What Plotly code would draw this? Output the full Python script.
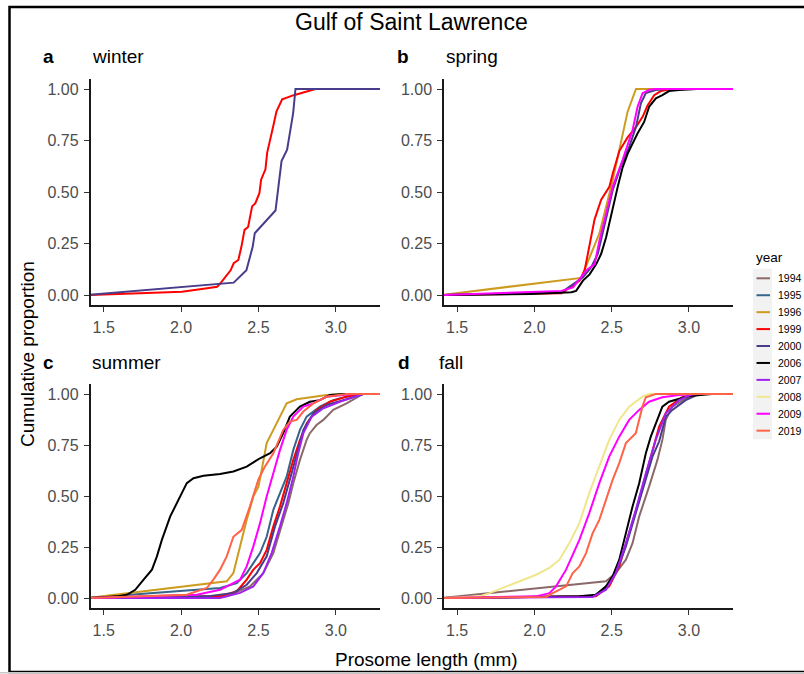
import plotly.graph_objects as go

# ---------------- data ----------------
YEARS = ["1994", "1995", "1996", "1999", "2000", "2006", "2007", "2008", "2009", "2019"]
COLORS = {"1994": "#8B6969", "1995": "#36648B", "1996": "#CD9B1D", "1999": "#FF0000",
          "2000": "#483D8B", "2006": "#000000", "2007": "#A020F0", "2008": "#F0E68C",
          "2009": "#FF00FF", "2019": "#FF6347"}

X_TICKS = [1.5, 2.0, 2.5, 3.0]
Y_TICKS = [0.0, 0.25, 0.5, 0.75, 1.0]
Y_TICK_LABELS = ["0.00", "0.25", "0.50", "0.75", "1.00"]

# winter
WINTER_X = {
    "1999": [1.40, 2.006, 2.157, 2.233, 2.254, 2.287, 2.32, 2.34, 2.37, 2.39, 2.41, 2.433, 2.459, 2.48,
             2.506, 2.517, 2.545, 2.556, 2.582, 2.60, 2.616, 2.653, 2.728, 2.793, 2.868],
    "2000": [1.40, 2.34, 2.422, 2.463, 2.476, 2.61, 2.649, 2.685, 2.724, 2.739, 3.40],
}
WINTER_Y = {
    "1999": [0.0, 0.016, 0.032, 0.04, 0.057, 0.09, 0.12, 0.154, 0.17, 0.235, 0.316, 0.33, 0.43, 0.446,
             0.494, 0.56, 0.61, 0.69, 0.77, 0.835, 0.89, 0.95, 0.97, 0.985, 1.0],
    "2000": [0.0, 0.06, 0.12, 0.235, 0.30, 0.41, 0.65, 0.705, 0.883, 1.0, 1.0],
}

# spring
SPRING_X = {
    "1996": [1.40, 2.303, 2.421, 2.507, 2.603, 2.657, 3.40],
    "1999": [1.40, 2.175, 2.293, 2.325, 2.346, 2.389, 2.432, 2.485, 2.507, 2.55, 2.603, 2.657, 2.70,
             2.732, 2.775, 2.818, 2.89, 3.40],
    "2000": [1.40, 2.175, 2.314, 2.368, 2.41, 2.464, 2.507, 2.56, 2.614, 2.657, 2.689, 2.721, 2.785,
             2.85, 3.40],
    "2006": [1.40, 1.971, 2.239, 2.27, 2.314, 2.357, 2.40, 2.432, 2.464, 2.507, 2.539, 2.571, 2.603,
             2.635, 2.668, 2.71, 2.743, 2.786, 2.828, 2.871, 2.935, 3.053, 3.40],
    "2009": [1.40, 2.175, 2.25, 2.293, 2.336, 2.39, 2.421, 2.464, 2.507, 2.571, 2.635, 2.668, 2.70,
             2.743, 2.785, 3.40],
}
SPRING_Y = {
    "1996": [0.0, 0.083, 0.30, 0.558, 0.89, 1.0, 1.0],
    "1999": [0.0, 0.008, 0.07, 0.12, 0.20, 0.366, 0.463, 0.525, 0.59, 0.70, 0.765, 0.815, 0.865,
             0.92, 0.97, 0.99, 1.0, 1.0],
    "2000": [0.0, 0.013, 0.086, 0.135, 0.20, 0.38, 0.51, 0.626, 0.72, 0.815, 0.93, 0.98, 0.995,
             1.0, 1.0],
    "2006": [0.0, 0.005, 0.013, 0.02, 0.07, 0.10, 0.15, 0.20, 0.28, 0.43, 0.525, 0.62, 0.685,
             0.735, 0.785, 0.84, 0.915, 0.955, 0.97, 0.99, 0.995, 1.0, 1.0],
    "2009": [0.0, 0.02, 0.037, 0.078, 0.12, 0.15, 0.265, 0.395, 0.526, 0.656, 0.80, 0.915, 0.98,
             0.996, 1.0, 1.0],
}

# summer
SUMMER_X = {
    "1994": [1.40, 2.295, 2.445, 2.531, 2.596, 2.65, 2.693, 2.725, 2.768, 2.811, 2.832, 2.875, 2.919,
             2.983, 3.069, 3.176, 3.40],
    "1995": [1.40, 2.252, 2.36, 2.424, 2.467, 2.51, 2.553, 2.596, 2.639, 2.682, 2.725, 2.768, 2.811,
             2.897, 2.983, 3.11, 3.176, 3.40],
    "1996": [1.40, 2.295, 2.338, 2.381, 2.424, 2.467, 2.50, 2.521, 2.553, 2.596, 2.639, 2.682, 2.747,
             2.832, 2.94, 3.069, 3.40],
    "1999": [1.40, 2.252, 2.36, 2.424, 2.467, 2.51, 2.553, 2.596, 2.639, 2.682, 2.725, 2.768, 2.811,
             2.875, 2.961, 3.069, 3.155, 3.40],
    "2000": [1.40, 2.166, 2.338, 2.424, 2.489, 2.553, 2.607, 2.66, 2.714, 2.757, 2.79, 2.854, 2.94,
             3.047, 3.176, 3.40],
    "2006": [1.40, 1.586, 1.65, 1.704, 1.758, 1.812, 1.844, 1.876, 1.93, 1.984, 2.037, 2.08, 2.145,
             2.252, 2.338, 2.424, 2.51, 2.575, 2.618, 2.66, 2.703, 2.768, 2.832, 2.897, 2.961, 3.047,
             3.40],
    "2007": [1.40, 2.252, 2.381, 2.467, 2.531, 2.585, 2.639, 2.682, 2.725, 2.757, 2.79, 2.844, 2.919,
             3.026, 3.176, 3.40],
    "2009": [1.40, 2.102, 2.252, 2.338, 2.381, 2.424, 2.467, 2.51, 2.553, 2.596, 2.639, 2.682, 2.725,
             2.79, 2.854, 2.94, 3.11, 3.40],
    "2019": [1.40, 2.037, 2.166, 2.209, 2.252, 2.295, 2.338, 2.392, 2.445, 2.499, 2.542, 2.596, 2.628,
             2.66, 2.703, 2.747, 2.79, 2.854, 2.94, 3.069, 3.40],
}
SUMMER_Y = {
    "1994": [0.0, 0.008, 0.057, 0.122, 0.22, 0.351, 0.465, 0.563, 0.677, 0.775, 0.808, 0.848, 0.873,
             0.922, 0.954, 1.0, 1.0],
    "1995": [0.0, 0.049, 0.073, 0.122, 0.171, 0.22, 0.30, 0.432, 0.514, 0.595, 0.726, 0.824, 0.889,
             0.938, 0.97, 0.995, 1.0, 1.0],
    "1996": [0.0, 0.082, 0.122, 0.253, 0.383, 0.498, 0.546, 0.628, 0.759, 0.824, 0.889, 0.954, 0.974,
             0.984, 0.995, 1.0, 1.0],
    "1999": [0.0, 0.008, 0.033, 0.09, 0.139, 0.171, 0.236, 0.351, 0.449, 0.563, 0.677, 0.775, 0.856,
             0.922, 0.962, 0.987, 1.0, 1.0],
    "2000": [0.0, 0.008, 0.025, 0.065, 0.122, 0.204, 0.351, 0.465, 0.612, 0.726, 0.824, 0.905, 0.946,
             0.97, 1.0, 1.0],
    "2006": [0.0, 0.008, 0.016, 0.04, 0.09, 0.139, 0.204, 0.285, 0.40, 0.48, 0.563, 0.587, 0.599,
             0.608, 0.62, 0.644, 0.685, 0.71, 0.742, 0.808, 0.889, 0.938, 0.962, 0.97, 0.995, 1.0,
             1.0],
    "2007": [0.0, 0.0, 0.025, 0.057, 0.122, 0.22, 0.351, 0.465, 0.595, 0.71, 0.808, 0.889, 0.93,
             0.962, 1.0, 1.0],
    "2009": [0.0, 0.016, 0.04, 0.073, 0.09, 0.155, 0.253, 0.367, 0.498, 0.612, 0.726, 0.824, 0.889,
             0.938, 0.954, 0.987, 1.0, 1.0],
    "2019": [0.0, 0.016, 0.049, 0.09, 0.139, 0.204, 0.30, 0.334, 0.449, 0.58, 0.645, 0.71, 0.767,
             0.824, 0.865, 0.873, 0.914, 0.954, 0.987, 1.0, 1.0],
}

# fall
FALL_X = {
    "1994": [1.40, 2.463, 2.527, 2.592, 2.635, 2.678, 2.742, 2.796, 2.828, 2.85, 2.893, 2.979, 3.065, 3.40],
    "1999": [1.40, 2.398, 2.484, 2.549, 2.613, 2.678, 2.742, 2.807, 2.871, 2.957, 3.065, 3.40],
    "2000": [1.40, 2.377, 2.463, 2.527, 2.592, 2.656, 2.721, 2.764, 2.807, 2.85, 2.893, 2.979, 3.065, 3.40],
    "2006": [1.40, 2.291, 2.398, 2.463, 2.506, 2.549, 2.592, 2.635, 2.678, 2.721, 2.753, 2.785, 2.828,
             2.871, 3.0, 3.15, 3.40],
    "2007": [1.40, 2.377, 2.463, 2.527, 2.592, 2.656, 2.721, 2.785, 2.85, 2.936, 3.022, 3.40],
    "2008": [1.40, 1.646, 1.71, 1.818, 1.926, 2.011, 2.097, 2.162, 2.226, 2.291, 2.355, 2.42, 2.484,
             2.549, 2.613, 2.699, 2.742, 3.40],
    "2009": [1.40, 2.011, 2.097, 2.14, 2.205, 2.291, 2.355, 2.42, 2.484, 2.549, 2.613, 2.678, 2.742,
             2.828, 2.936, 3.065, 3.40],
    "2019": [1.40, 2.076, 2.119, 2.205, 2.248, 2.291, 2.334, 2.377, 2.42, 2.463, 2.506, 2.549, 2.592,
             2.656, 2.678, 2.699, 2.721, 2.785, 3.40],
}
FALL_Y = {
    "1994": [0.0, 0.082, 0.122, 0.188, 0.269, 0.40, 0.546, 0.677, 0.775, 0.873, 0.938, 0.979, 1.0, 1.0],
    "1999": [0.0, 0.008, 0.057, 0.155, 0.318, 0.481, 0.661, 0.84, 0.938, 0.984, 1.0, 1.0],
    "2000": [0.0, 0.008, 0.049, 0.122, 0.253, 0.416, 0.579, 0.693, 0.767, 0.889, 0.922, 0.97, 1.0, 1.0],
    "2006": [0.0, 0.008, 0.016, 0.057, 0.106, 0.188, 0.318, 0.449, 0.563, 0.71, 0.791, 0.856, 0.938,
             0.962, 0.99, 1.0, 1.0],
    "2007": [0.0, 0.005, 0.041, 0.122, 0.269, 0.432, 0.612, 0.775, 0.905, 0.97, 1.0, 1.0],
    "2008": [0.0, 0.008, 0.024, 0.057, 0.09, 0.114, 0.147, 0.188, 0.269, 0.367, 0.514, 0.644, 0.775,
             0.873, 0.938, 0.987, 1.0, 1.0],
    "2009": [0.0, 0.008, 0.024, 0.057, 0.139, 0.285, 0.416, 0.563, 0.693, 0.791, 0.873, 0.922, 0.962,
             0.984, 0.995, 1.0, 1.0],
    "2019": [0.0, 0.005, 0.024, 0.057, 0.122, 0.155, 0.22, 0.318, 0.383, 0.481, 0.579, 0.661, 0.759,
             0.808, 0.873, 0.938, 0.984, 1.0, 1.0],
}

PANELS = [("a", "winter", WINTER_X, WINTER_Y),
          ("b", "spring", SPRING_X, SPRING_Y),
          ("c", "summer", SUMMER_X, SUMMER_Y),
          ("d", "fall", FALL_X, FALL_Y)]

# ---------------- layout ----------------
W, H = 804, 674
FONT = "Liberation Sans, Arial, sans-serif"


def px_x(p):
    return p / W


def px_y(p):
    return 1 - p / H


X_DOMAINS = [[px_x(90.5), px_x(380)], [px_x(444), px_x(733)]]
Y_DOMAINS = [[px_y(305.3), px_y(78.7)], [px_y(608.2), px_y(383.8)]]

fig = go.Figure()
for i, (letter, season, xs, ys) in enumerate(PANELS):
    ax = "" if i == 0 else str(i + 1)
    for yr in YEARS:
        if yr not in xs:
            continue
        fig.add_trace(go.Scatter(
            x=xs[yr], y=ys[yr], mode="lines", name=yr, legendgroup=yr, showlegend=False,
            line=dict(color=COLORS[yr], width=2),
            xaxis="x" + ax, yaxis="y" + ax, hoverinfo="skip"))

axis_common = dict(showline=True, linecolor="#1A1A1A", linewidth=1.5, mirror=False,
                   ticks="outside", ticklen=5, tickcolor="#333333", tickwidth=1.2,
                   showgrid=False, zeroline=False, ticklabelstandoff=2,
                   tickfont=dict(family=FONT, size=16, color="#4D4D4D"))

layout = dict(
    width=W, height=H, margin=dict(l=0, r=0, t=0, b=0),
    paper_bgcolor="white", plot_bgcolor="white",
    font=dict(family=FONT, color="#000000"),
    showlegend=False,
)
for i in range(4):
    ax = "" if i == 0 else str(i + 1)
    col, row = i % 2, i // 2
    layout["xaxis" + ax] = dict(domain=X_DOMAINS[col], range=[1.415, 3.285], anchor="y" + ax,
                                tickvals=X_TICKS, ticktext=[f"{v:.1f}" for v in X_TICKS],
                                **axis_common)
    layout["yaxis" + ax] = dict(domain=Y_DOMAINS[row], range=[-0.05, 1.05], anchor="x" + ax,
                                tickvals=Y_TICKS, ticktext=Y_TICK_LABELS, **axis_common)
fig.update_layout(**layout)

annotations = [
    dict(text="Gulf of Saint Lawrence", x=px_x(411.5), y=px_y(22), font=dict(size=23)),
    dict(text="Prosome length (mm)", x=px_x(426), y=px_y(659), font=dict(size=19)),
    dict(text="Cumulative proportion", x=px_x(27), y=px_y(354), font=dict(size=19), textangle=-90),
]
label_pos = [(48, 90, 57), (402.5, 444, 57), (48, 90, 362), (404, 437, 362)]
for (letter, season, _, _), (lx, sx, yy) in zip(PANELS, label_pos):
    annotations.append(dict(text=f"<b>{letter}</b>", x=px_x(lx), y=px_y(yy), font=dict(size=19)))
    annotations.append(dict(text=season, x=px_x(sx), y=px_y(yy), xanchor="left", font=dict(size=19)))

# legend (drawn by hand to match the compact ggplot key layout)
LEG_TOP, LEG_STEP = 278.3, 16.93
annotations.append(dict(text="year", x=px_x(753.5), y=px_y(257.5), xanchor="left", font=dict(size=13.5)))
shapes = [
    dict(type="rect", xref="paper", yref="paper", x0=px_x(753), x1=px_x(772),
         y0=px_y(LEG_TOP + LEG_STEP * (len(YEARS) - 1) + 8.5), y1=px_y(LEG_TOP - 9.5),
         line=dict(width=0), fillcolor="#F2F2F2", layer="below"),
]
for k, yr in enumerate(YEARS):
    yy = LEG_TOP + LEG_STEP * k
    shapes.append(dict(type="line", xref="paper", yref="paper", x0=px_x(756.5), x1=px_x(770),
                       y0=px_y(yy), y1=px_y(yy), line=dict(color=COLORS[yr], width=2)))
    annotations.append(dict(text=yr, x=px_x(777), y=px_y(yy), xanchor="left", borderpad=0,
                            font=dict(size=10.5)))

for a in annotations:
    a.setdefault("xanchor", "center")
    a.update(xref="paper", yref="paper", yanchor="middle", showarrow=False)
    a["font"] = dict(family=FONT, color="#000000", **a["font"])

# outer border of the figure
shapes += [
    dict(type="rect", xref="paper", yref="paper", x0=px_x(9.5), x1=1.02, y0=px_y(672), y1=px_y(7),
         line=dict(color="#000000", width=2.5), fillcolor="rgba(0,0,0,0)", layer="below"),
    dict(type="line", xref="paper", yref="paper", x0=0, x1=1, y0=px_y(672.8), y1=px_y(672.8),
         line=dict(color="#C8C8C8", width=1.5)),
]
fig.update_layout(annotations=annotations, shapes=shapes)

fig.write_html("out.html", config={"displayModeBar": False},
               post_script="document.body.style.margin='0';document.body.style.overflow='hidden';")
